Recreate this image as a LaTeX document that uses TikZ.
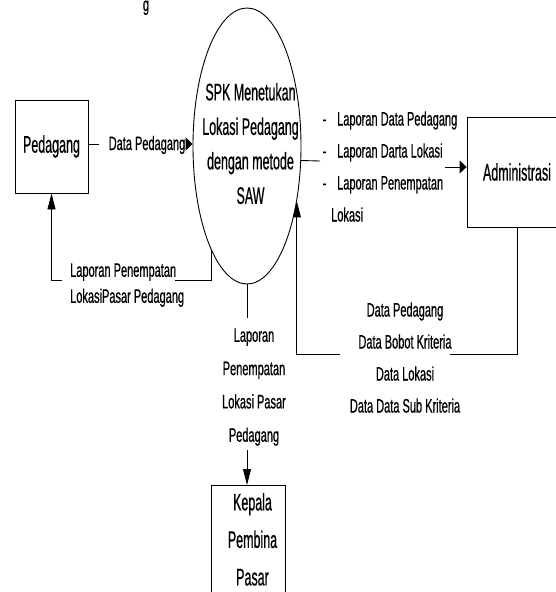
\documentclass[tikz,border=0pt]{standalone}
\usepackage{fontspec}
\setmainfont{Liberation Sans}
\newfontfamily\flowfont[FakeStretch=0.565,FakeBold=0.6]{Liberation Sans}
\newfontfamily\bigfont[FakeStretch=0.52,FakeBold=0.6]{Liberation Sans}
\usetikzlibrary{shapes.geometric,arrows.meta}
\begin{document}
\begin{tikzpicture}[x=1pt,y=-1pt,
  conn/.style={draw=black, line width=0.9pt},
  harr/.style={conn, -{Triangle[length=7pt,width=13pt]}},
  varr/.style={conn, -{Triangle[length=16pt,width=8pt]}},
  entity/.style={draw=black, line width=0.9pt, inner sep=0pt},
  flowlbl/.style={font=\flowfont\fontsize{19.5}{32}\selectfont, inner sep=0pt},
  bigtxt/.style={font=\bigfont\fontsize{24}{34.5}\selectfont, inner sep=0pt},
]
\useasboundingbox (0,0) rectangle (556,592);
\clip (0,0) rectangle (556,592);

% fragment of cropped caption
\node[flowlbl, anchor=base] (frag) at (146,11) {g};

% entities and process
\node[entity, bigtxt, minimum width=73pt, minimum height=93pt] (ped) at (51.5,146.5) {Pedagang};
\node[entity, ellipse, minimum width=108pt, minimum height=276pt] (spk) at (247,146) {};
\node[bigtxt, align=center, anchor=north] (spktxt) at (250.5,82.8) {SPK Menetukan\\Lokasi Pedagang\\dengan metode\\SAW};
\node[entity, bigtxt, minimum width=100pt, minimum height=110pt] (adm) at (517,172) {Administrasi};
\node[entity, minimum width=74pt, minimum height=130pt, anchor=north] (kep) at (248,485) {};
\node[bigtxt, font=\bigfont\fontsize{24}{37.5}\selectfont, align=center, anchor=north] (keptxt) at (252.5,492.8) {Kepala\\Pembina\\Pasar};

% Pedagang -> SPK
\coordinate (a1) at (99,144);
\coordinate (a2) at (186,144);
\draw[conn] (ped.east |- a1) -- (a1);
\draw[harr] (a2) -- (spk.west |- a2);
\node[flowlbl, anchor=base] (dplbl) at (147,150) {Data Pedagang};

% SPK -> Administrasi
\coordinate (b1) at (320,161);
\coordinate (b2) at (445,167);
\draw[conn] (spk.-15.6) -- (b1);
\draw[harr] (b2) -- (adm.west |- b2);
\node[flowlbl, align=left, anchor=north west] (rlbl) at (322.5,111.2)
  {\makebox[14.5pt][l]{-}Laporan Data Pedagang\\
   \makebox[14.5pt][l]{-}Laporan Darta Lokasi\\
   \makebox[14.5pt][l]{-}Laporan Penempatan\\
   \hspace*{8.5pt}Lokasi};

% SPK -> Pedagang
\coordinate (c1) at (175,280);
\coordinate (c2) at (62,280);
\draw[conn] (spk.-109.1) |- (c1);
\draw[varr] (c2) -| (ped.south);
\node[flowlbl, font=\flowfont\fontsize{19.5}{26}\selectfont, align=left, anchor=north west] (llbl) at (70,263.2)
  {Laporan Penempatan\\LokasiPasar Pedagang};

% SPK -> Kepala Pembina Pasar
\coordinate (d1) at (247,318);
\coordinate (d2) at (247,450);
\draw[conn] (spk.south) -- (d1);
\draw[varr] (d2) -- (d2 |- kep.north);
\node[flowlbl, font=\flowfont\fontsize{19.5}{33.3}\selectfont, align=center, anchor=north] (blbl) at (254,328.2)
  {Laporan\\Penempatan\\Lokasi Pasar\\Pedagang};

% Administrasi -> SPK
\coordinate (e1) at (450,354);
\coordinate (e2) at (340,354);
\coordinate (pin) at (spk.-48.5);
\draw[conn] (adm.south) |- (e1);
\draw[varr] (e2) -| (pin);
\node[flowlbl, align=center, anchor=north] (dlbl) at (405,302.2)
  {Data Pedagang\\Data Bobot Kriteria\\Data Lokasi\\Data Data Sub Kriteria};
\end{tikzpicture}
\end{document}
